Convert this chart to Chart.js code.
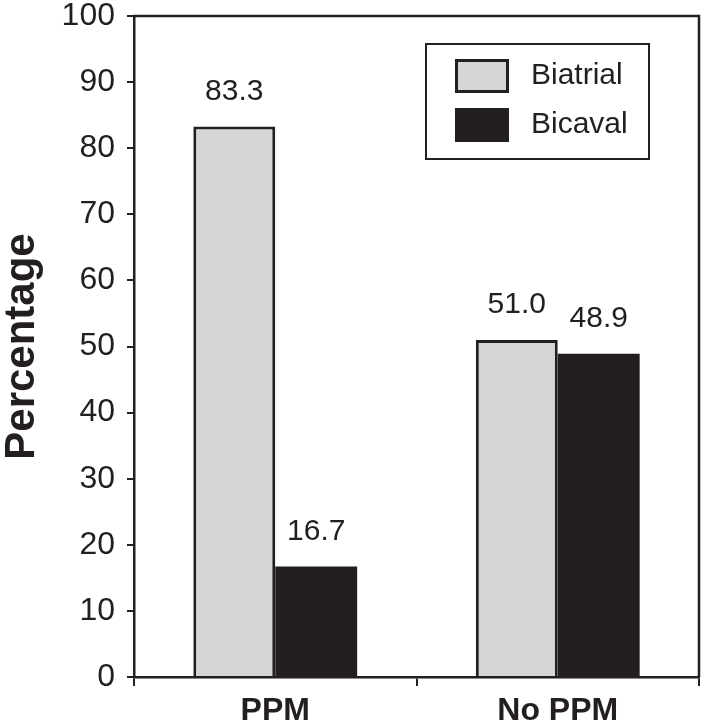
<!DOCTYPE html>
<html>
<head>
<meta charset="utf-8">
<script src="https://cdn.jsdelivr.net/npm/chart.js@4/dist/chart.umd.min.js"></script>
<style>
  html, body { margin: 0; padding: 0; background: #ffffff; }
  #wrap { width: 701px; height: 725px; }
</style>
</head>
<body>
<div id="wrap"><canvas id="c" width="701" height="725"></canvas></div>
<script>
const categories = ['PPM', 'No PPM'];
const seriesNames = ['Biatrial', 'Bicaval'];
const biatrialValues = [83.3, 51.0];
const bicavalValues = [16.7, 48.9];
const yTicks = [0, 10, 20, 30, 40, 50, 60, 70, 80, 90, 100];

const INK = '#231f20';
const LIGHT = '#d4d5d7';
const FONT = '"Liberation Sans", Arial, Helvetica, sans-serif';

const frameAndLabels = {
  id: 'frameAndLabels',
  afterDatasetsDraw(chart) {
    const ctx = chart.ctx;
    const a = chart.chartArea;
    ctx.save();
    // top & right frame
    ctx.strokeStyle = INK;
    ctx.lineWidth = 2.5;
    ctx.beginPath();
    ctx.moveTo(a.left, a.top);
    ctx.lineTo(a.right, a.top);
    ctx.lineTo(a.right, a.bottom);
    ctx.stroke();

    // value labels
    ctx.fillStyle = INK;
    ctx.font = '30px ' + FONT;
    ctx.textAlign = 'center';
    ctx.textBaseline = 'bottom';
    chart.data.datasets.forEach((ds, di) => {
      const meta = chart.getDatasetMeta(di);
      meta.data.forEach((bar, i) => {
        ctx.fillText(ds.data[i].toFixed(1), bar.x, bar.y - 20);
      });
    });

    // legend box
    const bx = a.right - 50, bw = 223, bh = 115;
    const x0 = bx - bw, y0 = a.top + 28;
    ctx.fillStyle = '#ffffff';
    ctx.fillRect(x0, y0, bw, bh);
    ctx.lineWidth = 2;
    ctx.strokeStyle = INK;
    ctx.strokeRect(x0, y0, bw, bh);
    ctx.font = '30px ' + FONT;
    ctx.textAlign = 'left';
    ctx.textBaseline = 'middle';
    chart.data.datasets.forEach((ds, di) => {
      const sy = y0 + 15 + di * 49;
      ctx.fillStyle = ds.backgroundColor;
      ctx.fillRect(x0 + 29, sy, 54, 34);
      if (ds.borderWidth) {
        ctx.lineWidth = 3;
        ctx.strokeStyle = ds.borderColor;
        ctx.strokeRect(x0 + 30.5, sy + 1.5, 51, 31);
      }
      ctx.fillStyle = INK;
      ctx.fillText(ds.label, x0 + 105, sy + 17);
    });
    ctx.restore();
  }
};

new Chart(document.getElementById('c'), {
  type: 'bar',
  data: {
    labels: categories,
    datasets: [
      {
        label: seriesNames[0],
        data: biatrialValues,
        backgroundColor: LIGHT,
        borderColor: INK,
        borderWidth: 3,
        categoryPercentage: 0.58,
        barPercentage: 1.0
      },
      {
        label: seriesNames[1],
        data: bicavalValues,
        backgroundColor: INK,
        borderColor: INK,
        borderWidth: 0,
        categoryPercentage: 0.58,
        barPercentage: 1.0
      }
    ]
  },
  options: {
    responsive: false,
    animation: false,
    devicePixelRatio: 1,
    layout: { padding: { top: 16, right: 2, left: 0, bottom: 0 } },
    plugins: {
      legend: { display: false },
      tooltip: { enabled: false },
      title: { display: false }
    },
    scales: {
      x: {
        offset: true,
        grid: {
          display: true,
          offset: true,
          drawOnChartArea: false,
          drawTicks: true,
          tickLength: 9,
          color: INK,
          lineWidth: 2
        },
        border: { display: true, color: INK, width: 2.5 },
        ticks: {
          color: INK,
          font: { family: FONT, size: 32, weight: 'bold' },
          padding: 6,
          maxRotation: 0
        },
        afterFit(s) { s.height = 48; s.paddingLeft = 0; s.paddingRight = 0; }
      },
      y: {
        min: 0,
        max: 100,
        afterBuildTicks(s) { s.ticks = yTicks.map(v => ({ value: v })); },
        grid: {
          display: true,
          drawOnChartArea: false,
          drawTicks: true,
          tickLength: 7,
          color: INK,
          lineWidth: 2
        },
        border: { display: true, color: INK, width: 2.5 },
        ticks: {
          color: INK,
          font: { family: FONT, size: 32 },
          padding: 12
        },
        title: {
          display: true,
          text: 'Percentage',
          color: INK,
          font: { family: FONT, size: 42, weight: 'bold', lineHeight: 1 },
          padding: { top: 1, bottom: 0 }
        },
        afterFit(s) { s.width = 134; s.paddingTop = 0; s.paddingBottom = 0; }
      }
    }
  },
  plugins: [frameAndLabels]
});
</script>
</body>
</html>
